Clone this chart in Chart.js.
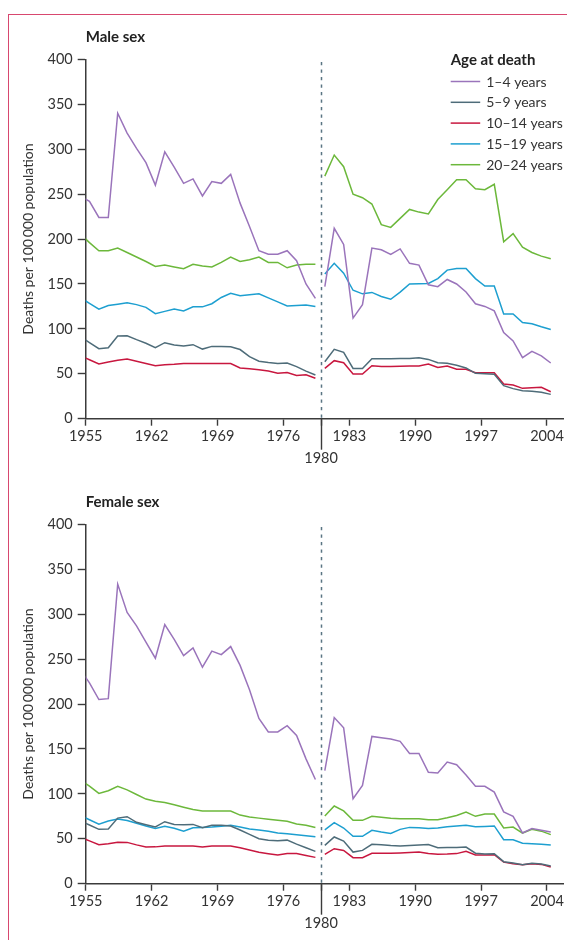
<!DOCTYPE html>
<html>
<head>
<meta charset="utf-8">
<title>Deaths per 100 000 population by age at death</title>
<script src="https://cdn.jsdelivr.net/npm/chart.js@4/dist/chart.umd.min.js"></script>
<style>
  html, body { margin: 0; padding: 0; background: #fff; }
  body { width: 567px; height: 940px; position: relative; overflow: hidden; }
  .frame {
    position: absolute; left: 8px; top: 14px; right: -4px; bottom: -4px;
    border-top: 1.5px solid #d8476f; border-left: 1.5px solid #d8476f;
  }
  .panel { position: absolute; left: 0; width: 567px; height: 450px; }
  canvas { display: block; }
</style>
</head>
<body>
<div class="frame"></div>
<div class="panel" style="top:20px"><canvas id="male" width="567" height="450"></canvas></div>
<div class="panel" style="top:485px"><canvas id="female" width="567" height="450"></canvas></div>

<script>
// ---- Data -----------------------------------------------------------------
// Classification break: separate series before and after 1980.
const BREAK_YEAR = 1980;

const PRE_YEARS = [1954, 1955, 1956, 1957, 1958, 1959, 1960, 1961, 1962, 1963,
                   1964, 1965, 1966, 1967, 1968, 1969, 1970, 1971, 1972, 1973,
                   1974, 1975, 1976, 1977, 1978, 1979];
const POST_YEARS = [1980, 1981, 1982, 1983, 1984, 1985, 1986, 1987, 1988, 1989,
                    1990, 1991, 1992, 1993, 1994, 1995, 1996, 1997, 1998, 1999,
                    2000, 2001, 2002, 2003, 2004];

const X_TICKS = [1955, 1962, 1969, 1976, 1980, 1983, 1990, 1997, 2004];
const Y_TICK_STEP = 50;

const AGE_GROUPS = ['1\u20134 years', '5\u20139 years', '10\u201314 years', '15\u201319 years', '20\u201324 years'];

// Male sex, deaths per 100 000
const MALE_PRE_1_4   = [248, 242, 224, 224, 340, 318, 301, 285, 260, 297, 280, 262, 267, 248, 264, 262, 272, 240, 214, 187, 183, 183, 187, 176, 150, 134];
const MALE_PRE_5_9   = [91.7, 84.7, 78, 79, 92, 92.4, 88, 84, 79, 84.6, 82, 81, 82.4, 77.5, 80.5, 80.5, 80, 77, 69, 64, 62.5, 61.5, 62, 58, 53, 48.6];
const MALE_PRE_10_14 = [70.4, 65.6, 61, 63, 65, 66.4, 64, 61.5, 59, 60, 60.5, 61.5, 61.5, 61.5, 61.5, 61.5, 61.5, 56.5, 55.5, 54.5, 53, 50.5, 51.5, 48.2, 49, 45];
const MALE_PRE_15_19 = [135, 128.5, 122, 126, 127.5, 129, 127, 124, 117, 119.5, 122, 120, 124.5, 124.5, 128, 135, 139.5, 137, 138, 139, 134.5, 130, 125.5, 126, 126.5, 125];
const MALE_PRE_20_24 = [206, 196, 187, 187, 190, 185, 180, 175, 169.5, 171, 169, 167, 172, 170, 169, 174, 180, 175, 177, 180, 174, 174, 168, 171, 172, 172];

const MALE_POST_1_4   = [147, 212, 194, 112, 127, 190, 188, 183, 189, 173, 171, 149, 147, 155, 150, 141, 128, 125, 120, 96, 86.5, 68, 75, 70, 62];
const MALE_POST_5_9   = [63.4, 77.2, 73.8, 56, 56, 66.8, 66.8, 66.8, 67, 67, 67.8, 66, 62.3, 61.6, 59.5, 56.5, 50.5, 50, 49.5, 36.8, 33.5, 31.2, 30.5, 29.5, 27.1];
const MALE_POST_10_14 = [56, 64.6, 62.3, 49.7, 49.7, 59, 58, 58, 58.5, 58.6, 58.6, 60.8, 57.1, 58.6, 55, 55, 51.2, 51.2, 51.2, 38.6, 37.5, 33.8, 34.5, 35, 30];
const MALE_POST_15_19 = [161, 173, 162, 143, 139, 140.6, 136, 133, 141, 150, 150.3, 150.6, 156, 165.4, 167.3, 167.3, 156, 147.7, 147.7, 116.5, 116.5, 107, 105.7, 102.4, 99.4];
const MALE_POST_20_24 = [270, 293.5, 280.5, 250, 246, 239, 216, 213, 223, 233, 230, 228, 244, 255, 266, 266, 256, 255, 261, 197, 206, 191, 185, 181, 178];

// Female sex, deaths per 100 000
const FEMALE_PRE_1_4   = [238.5, 223.5, 205, 206, 333.5, 302, 287, 269, 251, 288.5, 272, 254, 262.5, 241, 259, 255, 264, 243, 216, 184, 169, 169, 176, 165, 139, 116];
const FEMALE_PRE_5_9   = [70, 65.4, 60.5, 61, 73, 74.6, 68.3, 65.6, 63.1, 69, 66, 65.5, 66, 62.4, 65, 65, 64.3, 59.8, 54.9, 50, 48.3, 47.7, 48.5, 44, 40, 36];
const FEMALE_PRE_10_14 = [51.7, 47.7, 43.5, 44.5, 46.2, 46, 43.2, 40.8, 41, 42, 42, 42, 42, 41, 42, 42, 42, 40, 37.5, 35, 33.4, 32, 33.5, 33.5, 31.5, 29.3];
const FEMALE_PRE_15_19 = [76, 71.2, 66.3, 69.8, 72, 70.3, 67.3, 64.2, 61.6, 64, 61.7, 58.4, 62.3, 62.7, 63, 64, 65, 63, 60.8, 59.8, 58.5, 56.5, 55.5, 54.6, 53.5, 52.2];
const FEMALE_PRE_20_24 = [115.5, 108.7, 100.5, 103.5, 108.4, 104.4, 99.3, 94.2, 91.8, 90.3, 87.9, 85.2, 82.6, 80.9, 80.9, 80.9, 80.9, 76.4, 74.2, 73, 71.8, 70.6, 69.4, 66.5, 65, 62.5];

const FEMALE_POST_1_4   = [126, 185, 173.5, 94.6, 109.5, 164, 162.5, 161, 158.5, 145, 145, 124, 123.3, 135.5, 132.5, 121, 108.4, 108.5, 102, 80, 75, 56.5, 61.5, 59.5, 57.5];
const FEMALE_POST_5_9   = [42.7, 52, 47.5, 35.2, 37.1, 43.8, 43.3, 42.5, 42, 42.5, 43.2, 43.7, 40, 40.2, 40.4, 40.8, 34, 33.2, 33.4, 24.5, 23, 21.2, 22.8, 22, 19.6];
const FEMALE_POST_10_14 = [32.6, 39, 37, 29, 29, 33.8, 34, 34, 34.3, 34.8, 35.3, 33.5, 32.8, 33, 33.5, 36.2, 32, 32, 32.3, 24, 22.2, 21.2, 22.2, 21.5, 18.5];
const FEMALE_POST_15_19 = [60, 68, 62, 52.7, 52.7, 59.4, 57.5, 56, 60.5, 62.7, 62.3, 61.5, 62, 63.3, 64.3, 65, 63.3, 63.8, 64.3, 49, 49, 45, 44.5, 44, 43];
const FEMALE_POST_20_24 = [75.4, 86.5, 81, 70.5, 70.5, 75, 74, 72.8, 72.4, 72.4, 72.4, 71.3, 71.3, 73.5, 76, 79.8, 75, 77.6, 77.6, 62, 63, 56.4, 60.5, 58.5, 54.6];

// ---- Styling ------------------------------------------------------------------
const COLORS = ['#9a74bb', '#4e6c79', '#c8173f', '#1d9fd0', '#6cb83b'];
const AXIS_COLOR = '#3b3b3b';
const TEXT_COLOR = '#333333';
const FONT = 'Lato, "Open Sans", sans-serif';
// Annual rates are plotted a little inside their calendar year.
const YEAR_POS = 0.4;

Chart.defaults.font.family = FONT;
Chart.defaults.color = TEXT_COLOR;

function toPoints(years, values) {
  return years.map((yr, i) => ({ x: yr + YEAR_POS, y: values[i] }));
}

// Dashed break line at 1980 and its long tick mark
const breakLine = {
  id: 'breakLine',
  afterDraw(chart) {
    const { ctx, chartArea, scales } = chart;
    const x = Math.round(scales.x.getPixelForValue(BREAK_YEAR)) + 0.5;
    ctx.save();
    ctx.strokeStyle = '#5a7583';
    ctx.lineWidth = 1.5;
    ctx.setLineDash([3.3, 4.2]);
    ctx.beginPath();
    ctx.moveTo(x, chartArea.top + 2.5);
    ctx.lineTo(x, chartArea.bottom);
    ctx.stroke();
    ctx.setLineDash([]);
    ctx.strokeStyle = AXIS_COLOR;
    ctx.lineWidth = 1.4;
    ctx.beginPath();
    ctx.moveTo(x, chartArea.bottom);
    ctx.lineTo(x, chartArea.bottom + 31);
    ctx.stroke();
    ctx.restore();
  }
};

// Legend: "Age at death" with one line sample per age group
const ageLegend = {
  id: 'ageLegend',
  afterDraw(chart) {
    const ctx = chart.ctx;
    const left = 450.7, top = 40, rowGap = 20.8;
    ctx.save();
    ctx.textBaseline = 'middle';
    ctx.textAlign = 'left';
    ctx.fillStyle = '#222';
    ctx.font = 'bold 15px ' + FONT;
    ctx.fillText('Age at death', left, top);
    ctx.font = '14px ' + FONT;
    AGE_GROUPS.forEach((label, k) => {
      const y = top + 21 + k * rowGap;
      ctx.strokeStyle = COLORS[k];
      ctx.lineWidth = 1.5;
      ctx.beginPath();
      ctx.moveTo(left, y + 0.5);
      ctx.lineTo(left + 29.5, y + 0.5);
      ctx.stroke();
      ctx.fillStyle = TEXT_COLOR;
      ctx.fillText(label, left + 35.5, y + 1);
    });
    ctx.restore();
  }
};

function makeChart(id, title, pre, post, withLegend) {
  const datasets = [];
  AGE_GROUPS.forEach((group, k) => {
    const style = { borderColor: COLORS[k], backgroundColor: COLORS[k], borderWidth: 1.5,
                    pointRadius: 0, tension: 0, fill: false };
    datasets.push(Object.assign({ label: group, data: toPoints(PRE_YEARS, pre[k]) }, style));
    datasets.push(Object.assign({ label: group, data: toPoints(POST_YEARS, post[k]) }, style));
  });

  const plugins = [breakLine];
  if (withLegend) plugins.push(ageLegend);

  return new Chart(document.getElementById(id), {
    type: 'line',
    data: { datasets },
    plugins,
    options: {
      responsive: false,
      animation: false,
      devicePixelRatio: 1,
      events: [],
      layout: { padding: { left: 0, right: 4, top: 0, bottom: 0 } },
      plugins: {
        legend: { display: false },
        tooltip: { enabled: false },
        title: {
          display: true, text: title, align: 'start', fullSize: false,
          color: '#222', font: { family: FONT, size: 15, weight: 'bold', lineHeight: 1.2 },
          padding: { top: 8, bottom: 13.4 }
        }
      },
      scales: {
        x: {
          type: 'linear', min: 1955, max: 2005.7,
          afterBuildTicks: (scale) => { scale.ticks = X_TICKS.map(v => ({ value: v })); },
          afterFit: (scale) => { scale.height = 51.3; },
          ticks: {
            autoSkip: false, maxRotation: 0, padding: 0, color: TEXT_COLOR,
            font: { family: FONT, size: 14.5, lineHeight: 1.48 },
            callback: (v) => (v === BREAK_YEAR ? ['', String(v)] : String(v))
          },
          grid: { drawOnChartArea: false, drawTicks: true, tickLength: 7, tickWidth: 1.4, tickColor: AXIS_COLOR },
          border: { display: true, color: AXIS_COLOR, width: 1.5 }
        },
        y: {
          min: 0, max: 400,
          afterFit: (scale) => { scale.width = 85.7; },
          ticks: { stepSize: Y_TICK_STEP, padding: 5, color: TEXT_COLOR, font: { family: FONT, size: 14.5 } },
          title: {
            display: true, text: 'Deaths per 100\u2009000 population', color: TEXT_COLOR,
            font: { family: FONT, size: 14, lineHeight: 1.2 }, padding: { top: 20.5, bottom: 0 }
          },
          grid: { drawOnChartArea: false, drawTicks: true, tickLength: 8, tickWidth: 1.4, tickColor: AXIS_COLOR },
          border: { display: true, color: AXIS_COLOR, width: 1.5 }
        }
      }
    }
  });
}

makeChart('male', 'Male sex',
  [MALE_PRE_1_4, MALE_PRE_5_9, MALE_PRE_10_14, MALE_PRE_15_19, MALE_PRE_20_24],
  [MALE_POST_1_4, MALE_POST_5_9, MALE_POST_10_14, MALE_POST_15_19, MALE_POST_20_24],
  true);

makeChart('female', 'Female sex',
  [FEMALE_PRE_1_4, FEMALE_PRE_5_9, FEMALE_PRE_10_14, FEMALE_PRE_15_19, FEMALE_PRE_20_24],
  [FEMALE_POST_1_4, FEMALE_POST_5_9, FEMALE_POST_10_14, FEMALE_POST_15_19, FEMALE_POST_20_24],
  false);
</script>
</body>
</html>
